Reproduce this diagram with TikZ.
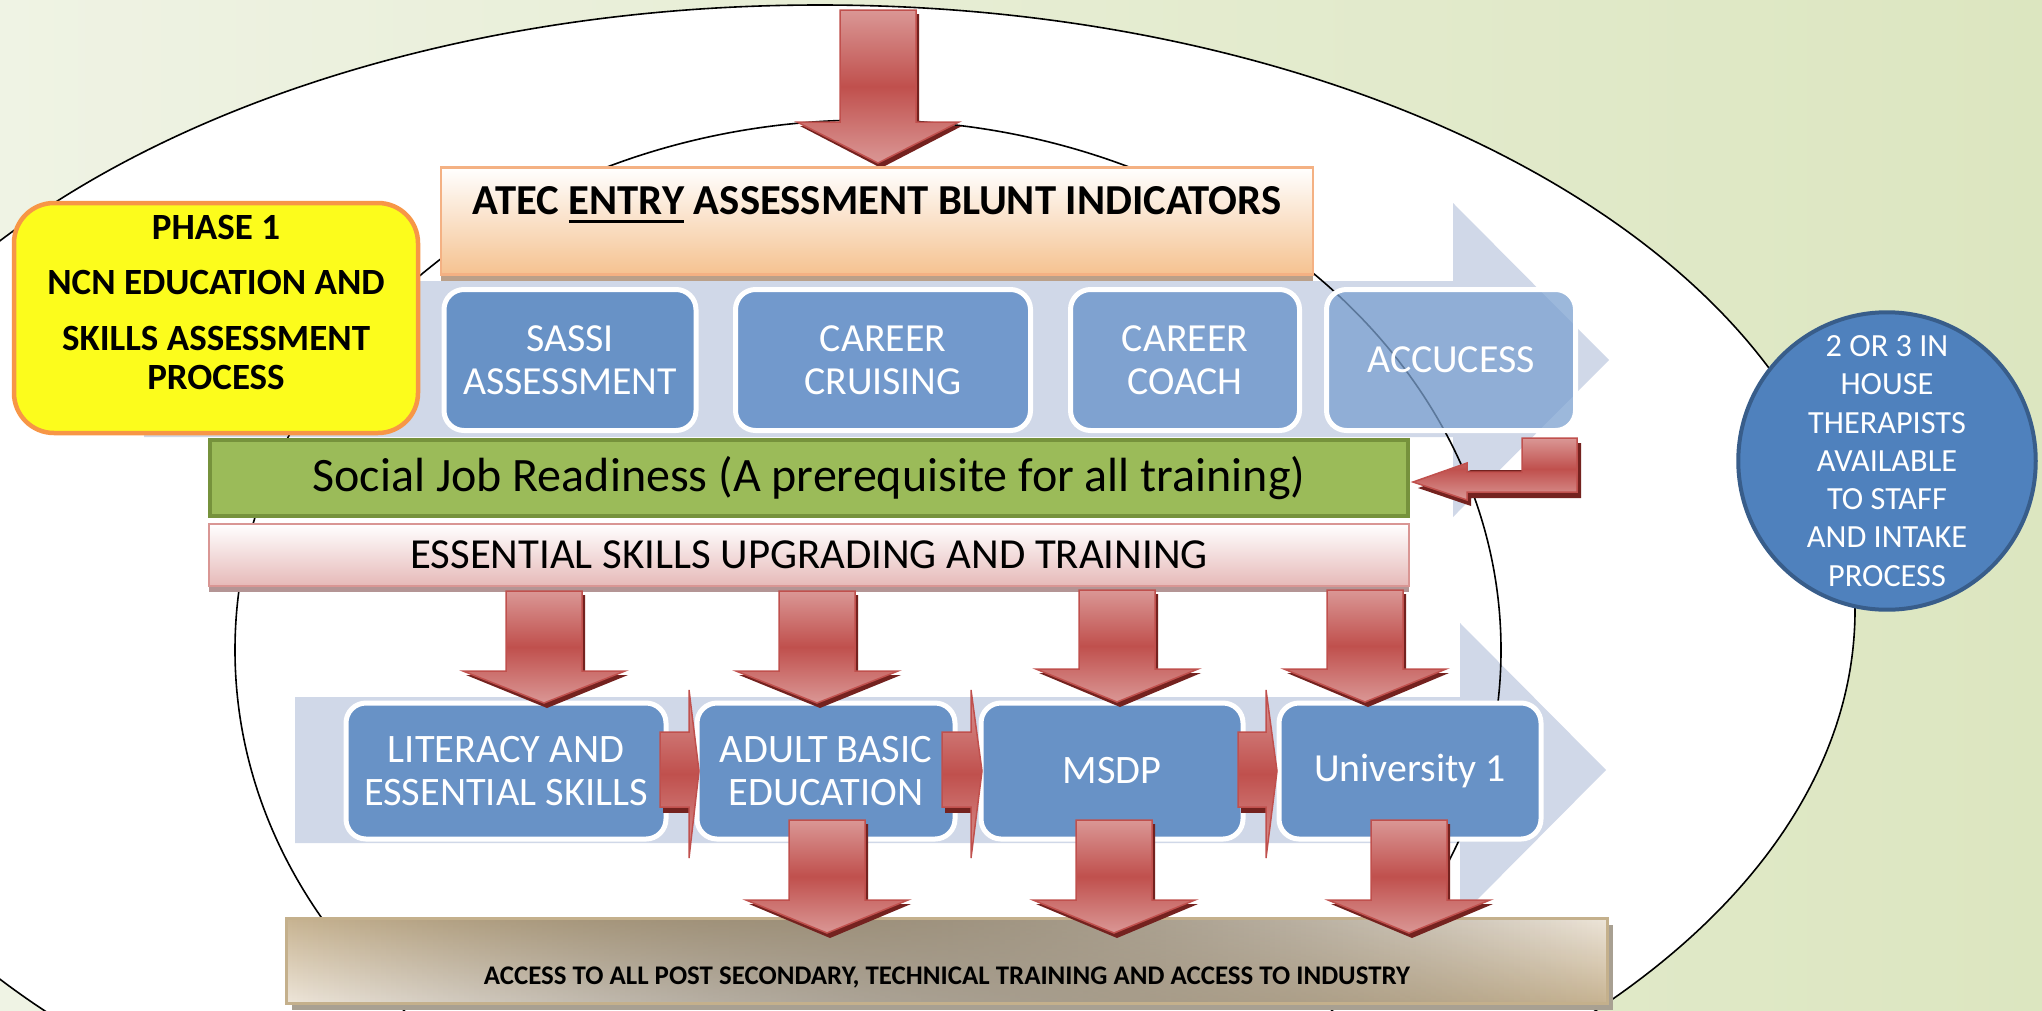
\documentclass[tikz,border=0pt]{standalone}
\usepackage{fontspec}
\setmainfont{Carlito}
\usetikzlibrary{shadows,fadings}

\definecolor{bgpale}{HTML}{EFF3E4}
\definecolor{bggreen}{HTML}{DCE6C0}
\definecolor{chevrongrey}{HTML}{D0D8E8}
\definecolor{redlight}{HTML}{DA9795}
\definecolor{reddark}{HTML}{C0504D}
\definecolor{redshadow}{HTML}{74221F}
\definecolor{atecpeach}{HTML}{F5C290}
\definecolor{atecedge}{HTML}{F4B183}
\definecolor{atecshade}{HTML}{BAA089}
\definecolor{phaseyellow}{HTML}{FCFC1C}
\definecolor{phaseedge}{HTML}{F79646}
\definecolor{boxblue}{HTML}{6892C6}
\definecolor{cruiseblue}{HTML}{7299CC}
\definecolor{coachblue}{HTML}{7FA2D0}
\definecolor{accublue}{HTML}{7BA1D0}
\definecolor{jobgreen}{HTML}{9BBB59}
\definecolor{jobedge}{HTML}{76923C}
\definecolor{esspink}{HTML}{E6B9B8}
\definecolor{essedge}{HTML}{D99694}
\definecolor{essshade}{HTML}{B49595}
\definecolor{accesscream}{HTML}{EEE6DA}
\definecolor{accesstan}{HTML}{C8B492}
\definecolor{accessedge}{HTML}{C4B08C}
\definecolor{accessshade}{HTML}{A8A092}
\definecolor{therapyblue}{HTML}{4F81BD}
\definecolor{therapyedge}{HTML}{385D8A}

\newsavebox\ulbox
\newcommand\entryul[1]{\sbox\ulbox{#1}\rlap{\rule[-8.8pt]{\wd\ulbox}{2.7pt}}\usebox\ulbox}

% block arrow pointing down: x centre, y top, y head, y tip
\newcommand\dnarrow[4]{%
  \fill[redshadow] ({#1-35},{#2+4}) -- ({#1+41},{#2+4}) -- ({#1+41},{#3+4}) -- ({#1+84},{#3+4})
    -- ({#1+3},{#4+5}) -- ({#1-78},{#3+4}) -- ({#1-35},{#3+4}) -- cycle;
  \filldraw[redarrow] ({#1-38},#2) -- ({#1+38},#2) -- ({#1+38},#3) -- ({#1+81},#3)
    -- (#1,#4) -- ({#1-81},#3) -- ({#1-38},#3) -- cycle;}

% small block arrow pointing right: x shaft left, x head base, x tip
\newcommand\rtarrow[3]{%
  \fill[redshadow] ({#1+3},737) -- ({#2+3},737) -- ({#2+3},813) -- ({#1+3},813) -- cycle;
  \filldraw[redarrow] (#1,732) -- (#2,732) -- (#2,690) -- (#3,771) -- (#2,858)
    -- (#2,807) -- (#1,807) -- cycle;}

\tikzset{
  redarrow/.style={draw=reddark, line width=1.5pt, top color=redlight,
    bottom color=redlight, middle color=reddark},
  bluebox/.style={draw=white, line width=5pt, rounded corners=20pt, fill=boxblue,
    text=white, align=center, inner sep=0pt,
    font=\fontsize{39.8}{43}\selectfont},
  chevron/.style={fill=chevrongrey},
  barbox/.style={line width=4pt, inner sep=0pt, align=center}
}

\begin{document}
\begin{tikzpicture}[x=1pt, y=-1pt]
  \useasboundingbox (0,0) rectangle (2042,1010);
  \fill[left color=bgpale, right color=bggreen] (0,0) rectangle (2042,1010);

  % rings
  \fill[white] (820,610) ellipse [x radius=1035, y radius=605];
  \fill[chevron] (144,281) -- (1453,281) -- (1453,203) -- (1609,360) -- (1453,517)
    -- (1453,437) -- (144,437) -- cycle;
  \fill[chevron] (295,697) -- (1460,697) -- (1460,623) -- (1606,770) -- (1460,917)
    -- (1460,843) -- (295,843) -- cycle;
  \draw[line width=1.6pt] (820,610) ellipse [x radius=1035, y radius=605];
  \draw[line width=1.6pt] (868,650) ellipse [x radius=633, y radius=530];

  % entry
  \dnarrow{878}{10}{122}{163}
  \node[barbox, draw=atecedge, line width=2.5pt, top color=white, bottom color=atecpeach,
    minimum width=872pt, minimum height=107pt, text height=26pt, text depth=40pt,
    drop shadow={shadow xshift=0pt, shadow yshift=-6pt, fill=atecshade, opacity=1},
    font=\bfseries\fontsize{42.7}{48}\selectfont] (atec) at (877,221)
    {ATEC \entryul{ENTRY} ASSESSMENT BLUNT INDICATORS};

  \node[draw=phaseedge, fill=phaseyellow, line width=4.5pt, rounded corners=40pt,
    minimum width=404pt, minimum height=230pt, align=center, inner sep=0pt,
    text depth=32pt, font=\bfseries\fontsize{37}{39}\selectfont] (phase) at (216,318)
    {PHASE 1\\[16pt] NCN EDUCATION AND\\[17pt] SKILLS ASSESSMENT\\ PROCESS};

  \node[bluebox, minimum width=252pt, minimum height=141pt] (sassi) at (570,360)
    {SASSI\\ASSESSMENT};
  \node[bluebox, fill=cruiseblue, minimum width=295pt, minimum height=141pt] (cruising)
    at (883,360) {CAREER\\CRUISING};
  \node[bluebox, fill=coachblue, minimum width=229pt, minimum height=141pt] (coach)
    at (1185,360) {CAREER\\COACH};
  \node[bluebox, fill=accublue, fill opacity=0.75, text opacity=1,
    minimum width=249pt, minimum height=141pt] (accucess) at (1451,360) {ACCUCESS};

  \node[barbox, draw=jobedge, fill=jobgreen, minimum width=1198pt, minimum height=76pt,
    font=\fontsize{48}{54}\selectfont] (job) at (809,478)
    {Social Job Readiness (A prerequisite for all training)};

  % bent arrow back into the readiness bar
  \fill[redshadow] (1581,443) -- (1581,498) -- (1471,498) -- (1471,506) -- (1418,488)
    -- (1471,470) -- (1526,470) -- (1526,443) -- cycle;
  \filldraw[redarrow] (1577,438) -- (1577,492) -- (1467,492) -- (1467,500) -- (1413,482)
    -- (1467,463) -- (1467,472) -- (1522,472) -- (1522,438) -- cycle;

  \node[barbox, draw=essedge, line width=2.5pt, top color=white, bottom color=esspink,
    minimum width=1200pt, minimum height=62pt,
    drop shadow={shadow xshift=0pt, shadow yshift=-6pt, fill=essshade, opacity=1},
    font=\fontsize{42.8}{48}\selectfont] (ess) at (809,555)
    {ESSENTIAL SKILLS UPGRADING AND TRAINING};

  % programmes
  \node[bluebox, font=\fontsize{40.4}{43}\selectfont, minimum width=320pt,
    minimum height=136pt] (literacy) at (506,771) {LITERACY AND\\ESSENTIAL SKILLS};
  \node[bluebox, font=\fontsize{40.4}{43}\selectfont, minimum width=258pt,
    minimum height=136pt] (abe) at (826,771) {ADULT BASIC\\EDUCATION};
  \node[bluebox, font=\fontsize{40.4}{43}\selectfont, minimum width=262pt,
    minimum height=136pt] (msdp) at (1112,771) {MSDP};
  \node[bluebox, minimum width=262pt, minimum height=136pt] (uni) at (1410,771)
    {University 1};

  \dnarrow{544}{591}{671}{703}
  \dnarrow{817}{591}{671}{703}
  \dnarrow{1117}{590}{669}{702}
  \dnarrow{1365}{590}{669}{702}

  \rtarrow{660}{689}{699}
  \rtarrow{942}{971}{982}
  \rtarrow{1238}{1266}{1277}

  % exit
  \node[barbox, draw=accessedge, line width=2.5pt, top color=accesscream,
    bottom color=accesstan, minimum width=1321pt, minimum height=85pt,
    path picture={\fill[top color=accesstan, bottom color=accesscream, path fading=east]
      (path picture bounding box.north west) rectangle (path picture bounding box.south east);},
    drop shadow={shadow xshift=5pt, shadow yshift=-6pt, fill=accessshade, opacity=1},
    text height=47pt, text depth=0pt,
    font=\bfseries\fontsize{26.9}{32}\selectfont] (access) at (947,961)
    {ACCESS TO ALL POST SECONDARY, TECHNICAL TRAINING AND ACCESS TO INDUSTRY};

  \dnarrow{827}{820}{900}{933}
  \dnarrow{1114}{820}{900}{933}
  \dnarrow{1409}{820}{900}{933}

  % support
  \node[circle, draw=therapyedge, fill=therapyblue, line width=4pt, minimum size=290pt,
    inner sep=0pt, text=white, align=center,
    font=\fontsize{32.3}{38.3}\selectfont] (therapy) at (1887,461)
    {2 OR 3 IN\\HOUSE\\THERAPISTS\\AVAILABLE\\TO STAFF\\AND INTAKE\\PROCESS};
\end{tikzpicture}
\end{document}
